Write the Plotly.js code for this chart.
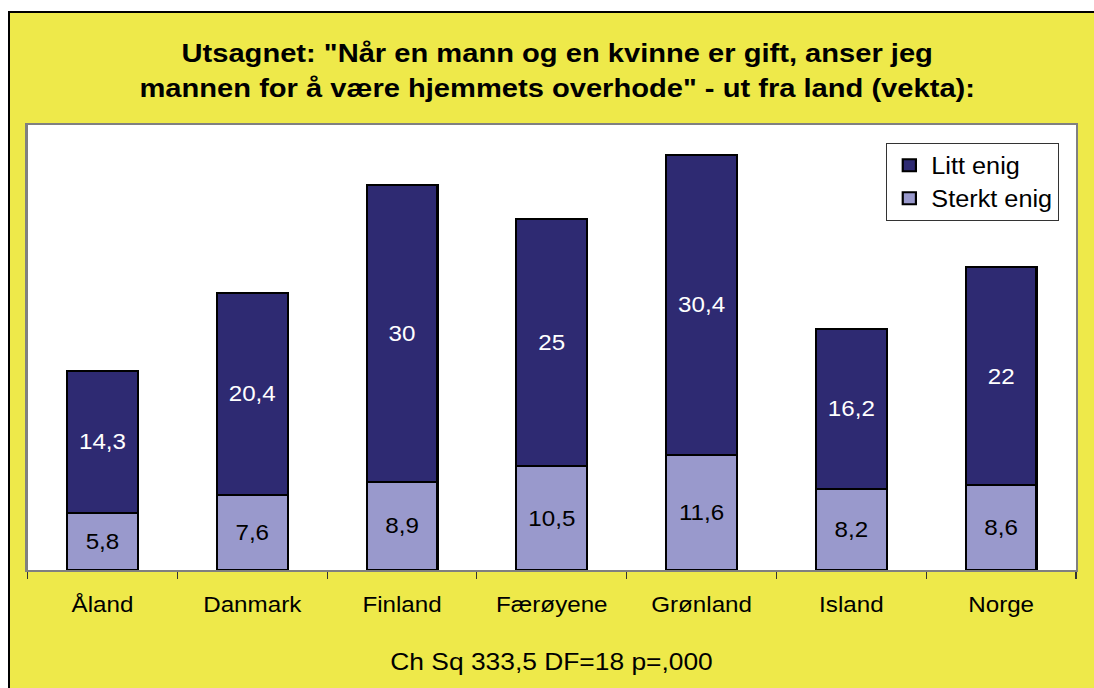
<!DOCTYPE html>
<html>
<head>
<meta charset="utf-8">
<script src="https://cdn.plot.ly/plotly-3.0.1.min.js"></script>
<style>
  html, body { margin: 0; padding: 0; background: #ffffff; overflow: hidden; }
  #fill { position: absolute; left: 10px; top: 13px; width: 1084px; height: 675px; background: #EEE94A; }
  #lineL { position: absolute; left: 8px; top: 11px; width: 2px; height: 677px; background: #000; }
  #lineT { position: absolute; left: 8px; top: 11px; width: 1086px; height: 2px; background: #000; }
  #chart { position: absolute; left: 10px; top: 13px; width: 986px; height: 675px; transform: scaleX(1.099); transform-origin: 0 0; }
</style>
</head>
<body>
<div id="fill"></div>
<div id="chart"></div>
<div id="lineL"></div>
<div id="lineT"></div>
<script>
const categories = ["Åland", "Danmark", "Finland", "Færøyene", "Grønland", "Island", "Norge"];
const sterktEnig = [5.8, 7.6, 8.9, 10.5, 11.6, 8.2, 8.6];
const littEnig = [14.3, 20.4, 30, 25, 30.4, 16.2, 22];
const seriesNames = ["Sterkt enig", "Litt enig"];
const titleLines = ["Utsagnet: \"Når en mann og en kvinne er gift, anser jeg", "mannen for å være hjemmets overhode\" - ut fra land (vekta):"];
const footnote = "Ch Sq 333,5 DF=18 p=,000";

const fmt = v => String(v).replace('.', ',');
const FONT = 'Liberation Sans, Arial, sans-serif';

const traces = [
  {
    type: 'bar', name: seriesNames[0], x: categories, y: sterktEnig,
    text: sterktEnig.map(fmt), textposition: 'inside', insidetextanchor: 'middle',
    textangle: 0, constraintext: 'none',
    textfont: { family: FONT, size: 22, color: '#000000' },
    marker: { color: '#9999CC', line: { color: '#000000', width: 2 } },
    legendrank: 2, hoverinfo: 'x+y+name'
  },
  {
    type: 'bar', name: seriesNames[1], x: categories, y: littEnig,
    text: littEnig.map(fmt), textposition: 'inside', insidetextanchor: 'middle',
    textangle: 0, constraintext: 'none',
    textfont: { family: FONT, size: 22, color: '#ffffff' },
    marker: { color: '#2E2A72', line: { color: '#000000', width: 2 } },
    legendrank: 1, hoverinfo: 'x+y+name'
  }
];

const layout = {
  width: 986, height: 675,
  paper_bgcolor: '#EEE94A', plot_bgcolor: '#ffffff',
  margin: { l: 16.4, r: 16, t: 112, b: 118 },
  barmode: 'stack', bargap: 0.527,
  font: { family: FONT, size: 22, color: '#000000' },
  title: {
    text: titleLines.join('<br>'),
    font: { family: FONT, size: 26.5, color: '#000000', weight: 'bold' },
    x: 0.505, xref: 'container', xanchor: 'center',
    y: 0.927, yref: 'container', yanchor: 'middle'
  },
  xaxis: {
    type: 'category', showline: true, mirror: true, linecolor: '#808080', linewidth: 2,
    ticks: 'outside', tickson: 'boundaries', ticklen: 7, tickcolor: '#333333', tickwidth: 1,
    tickfont: { family: FONT, size: 22, color: '#000000' },
    ticklabelstandoff: 14,
    showgrid: false, zeroline: false, fixedrange: true
  },
  yaxis: {
    range: [0, 45], showline: true, mirror: true, linecolor: '#808080', linewidth: 2,
    showticklabels: false, ticks: '', showgrid: false, zeroline: false, fixedrange: true
  },
  legend: {
    x: 0.819, y: 0.96, xanchor: 'left', yanchor: 'top',
    bgcolor: '#ffffff', bordercolor: '#333333', borderwidth: 1,
    font: { family: FONT, size: 23, color: '#000000' },
    traceorder: 'normal', itemwidth: 30, tracegroupgap: 0
  },
  annotations: [{
    text: footnote, xref: 'paper', yref: 'paper', x: 0.5, y: -0.2045,
    xanchor: 'center', yanchor: 'middle', showarrow: false,
    font: { family: FONT, size: 24, color: '#000000' }
  }],
  showlegend: true
};

Plotly.newPlot('chart', traces, layout, { displayModeBar: false, staticPlot: true });
</script>
</body>
</html>
